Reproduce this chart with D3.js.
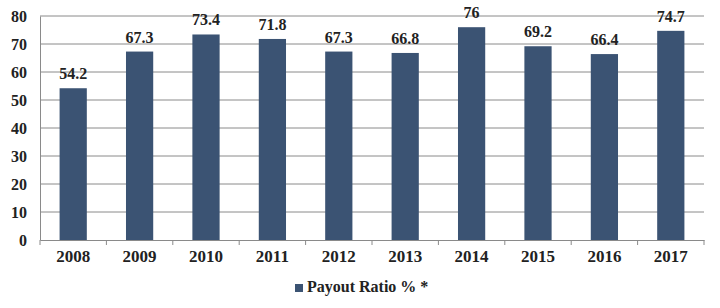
<!DOCTYPE html>
<html>
<head>
<meta charset="utf-8">
<script src="https://cdn.jsdelivr.net/npm/d3@7"></script>
<style>
  body { margin: 0; background: #fff; }
  text { font-family: "Liberation Serif", "Times New Roman", serif; font-weight: bold; fill: #222; }
</style>
</head>
<body>
<div id="chart"></div>
<script>
// data
var years = ["2008", "2009", "2010", "2011", "2012", "2013", "2014", "2015", "2016", "2017"];
var payout = [54.2, 67.3, 73.4, 71.8, 67.3, 66.8, 76, 69.2, 66.4, 74.7];
var yTicks = [0, 10, 20, 30, 40, 50, 60, 70, 80];
var seriesName = "Payout Ratio % *";

var svg = d3.select("#chart")
  .append("svg")
  .attr("width", 720)
  .attr("height", 308);

var margin = {top: 16, right: 16, bottom: 68, left: 40},
    width = 720 - margin.left - margin.right,
    height = 308 - margin.top - margin.bottom;

var x = d3.scaleBand().domain(years).range([0, width]).paddingInner(0.59).paddingOuter(0.295),
    xTick = d3.scaleBand().domain(years).range([0, width]),
    y = d3.scaleLinear().domain([0, 80]).range([height, 0]);

var g = svg.append("g")
  .attr("transform", "translate(" + margin.left + "," + margin.top + ")");

// gridlines
g.selectAll(".grid")
  .data(yTicks.slice(1))
  .enter().append("line")
  .attr("x1", 0).attr("x2", width)
  .attr("y1", function(d) { return y(d); })
  .attr("y2", function(d) { return y(d); })
  .attr("stroke", "#8a8a8a")
  .attr("stroke-width", 1);

// y axis
var yAxis = g.append("g")
  .call(d3.axisLeft(y).tickValues(yTicks).tickSize(0).tickPadding(13));
yAxis.select(".domain").attr("stroke", "#8a8a8a");
yAxis.selectAll("text").style("font-size", "16px").attr("fill", "#222");

// bars
g.selectAll(".bar")
  .data(payout)
  .enter().append("rect")
  .attr("class", "bar")
  .attr("x", function(d, i) { return x(years[i]); })
  .attr("y", function(d) { return y(d); })
  .attr("width", x.bandwidth())
  .attr("height", function(d) { return height - y(d); })
  .attr("fill", "#3b5373");

// value labels
g.selectAll(".lbl")
  .data(payout)
  .enter().append("text")
  .attr("class", "lbl")
  .attr("x", function(d, i) { return x(years[i]) + x.bandwidth() / 2; })
  .attr("y", function(d) { return y(d) - 9; })
  .attr("text-anchor", "middle")
  .style("font-size", "16px")
  .text(function(d) { return d; });

// x axis with ticks at band edges
var xAxis = g.append("g")
  .attr("transform", "translate(0," + height + ")")
  .call(d3.axisBottom(xTick).tickSize(0).tickPadding(10));
xAxis.select(".domain").attr("stroke", "#8a8a8a");
xAxis.selectAll("text").style("font-size", "17px").attr("fill", "#222");
xAxis.selectAll(".edge")
  .data(years.concat(["end"]))
  .enter().append("line")
  .attr("x1", function(d, i) { return i * xTick.step(); })
  .attr("x2", function(d, i) { return i * xTick.step(); })
  .attr("y1", 0).attr("y2", 5)
  .attr("stroke", "#8a8a8a");

// legend
var legend = svg.append("g").attr("transform", "translate(295,292)");
legend.append("rect")
  .attr("x", 0).attr("y", -8)
  .attr("width", 8).attr("height", 8)
  .attr("fill", "#3b5373");
legend.append("text")
  .attr("x", 12).attr("y", 0)
  .style("font-size", "16px")
  .text(seriesName);
</script>
</body>
</html>
